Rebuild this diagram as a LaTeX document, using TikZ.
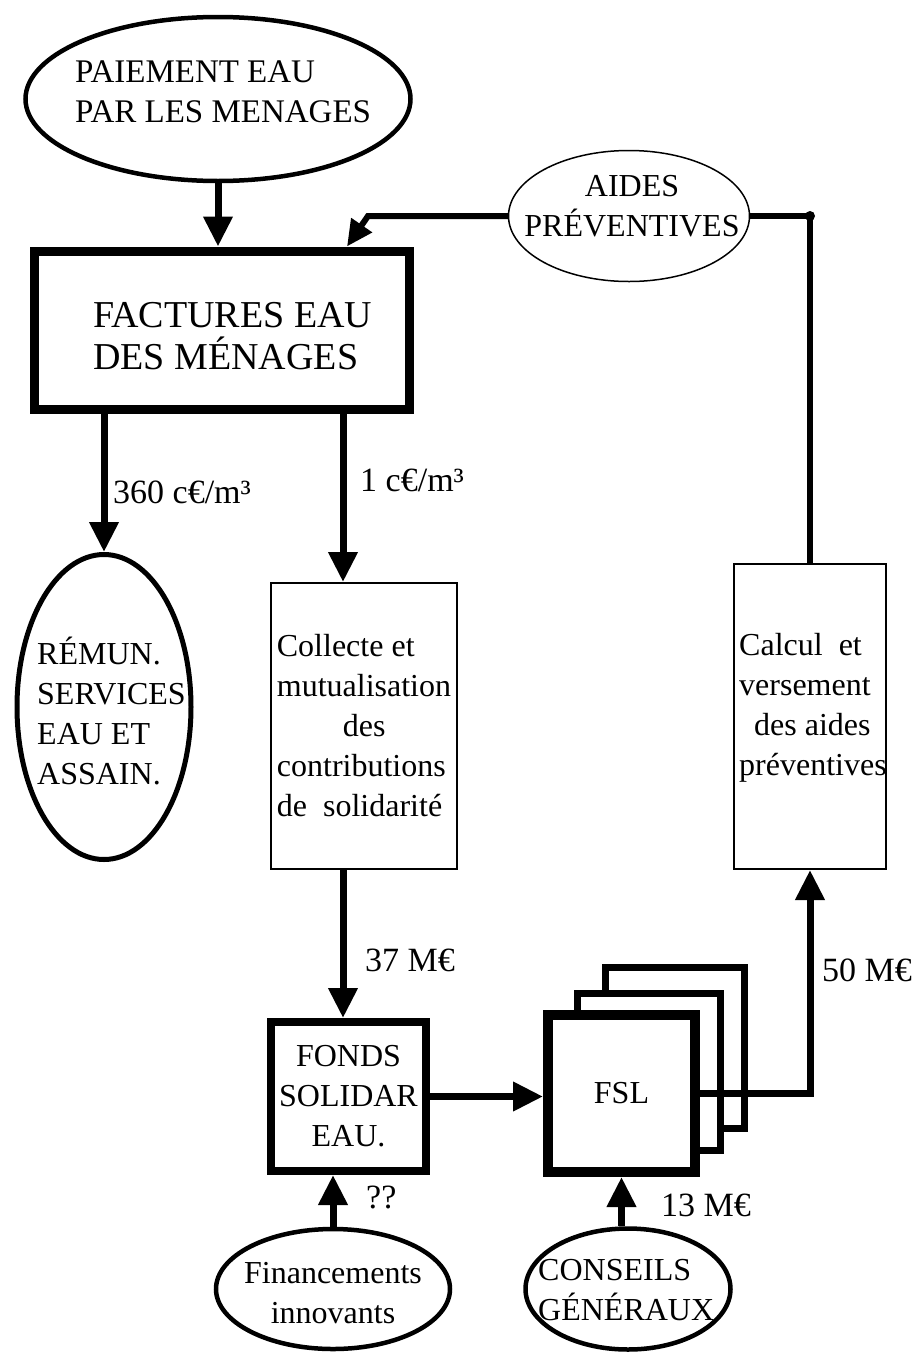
\documentclass[tikz,border=0pt]{standalone}
\usepackage{fontspec}
\setmainfont{Liberation Serif}
\usetikzlibrary{shapes.geometric,arrows.meta}
\begin{document}
\begin{tikzpicture}[x=1pt,y=-1pt,
  ell/.style={draw, ellipse, inner sep=0pt, line width=4.5pt},
  thinell/.style={draw, ellipse, inner sep=0pt, line width=1.5pt},
  thickbox/.style={draw, rectangle, inner sep=0pt, line width=8pt, align=center, font=\fontsize{32}{40}\selectfont},
  thinbox/.style={draw, rectangle, inner sep=0pt, line width=2pt, align=left, font=\fontsize{32}{40}\selectfont},
  txt/.style={font=\fontsize{32}{40}\selectfont, inner sep=0pt},
  flow/.style={line width=7pt, -{Triangle[width=28pt,length=30pt]}},
  link/.style={line width=6pt},
  page/.style={line width=7pt},
  lbl/.style={font=\fontsize{34}{38}\selectfont, anchor=west, inner sep=0pt}
]
\useasboundingbox (0,0) rectangle (915,1355);

% pages behind FSL
\draw[page] (605,995) -- (605,967) -- (744,967) -- (744,1128) -- (718,1128);
\draw[page] (577,1012) -- (577,993) -- (720,993) -- (720,1150) -- (697,1150);

% shapes
\node[ell, minimum width=385pt, minimum height=164pt] (pay) at (218,99) {};
\node[txt, anchor=west, align=left, font=\fontsize{33}{40}\selectfont] (payT) at (75,92) {PAIEMENT EAU\\PAR LES MENAGES};

\node[thickbox, line width=9pt, minimum width=375pt, minimum height=158pt] (fact) at (221.5,330) {};
\node[txt, anchor=west, align=left, font=\fontsize{38}{42}\selectfont] (factT) at (93,336) {FACTURES EAU\\DES MÉNAGES};

\node[thinell, minimum width=241pt, minimum height=131pt] (aides) at (629,216) {};
\node[txt, align=center] (aidesT) at (632,206) {AIDES\\PRÉVENTIVES};

\node[ell, line width=5pt, minimum width=174pt, minimum height=305pt] (remun) at (104,707) {};
\node[txt, anchor=west, align=left] (remunT) at (37,711) {RÉMUN.\\SERVICES\\EAU ET\\ASSAIN.};

\node[thinbox, minimum width=186pt, minimum height=286pt] (coll) at (364,726) {Collecte et\\mutualisation\\\hspace*{66pt}des\\contributions\\de~~solidarité};

\node[thinbox, minimum width=152pt, minimum height=305pt] (calc) at (810,716.5) {};
\node[txt, anchor=west, align=left] (calcT) at (739,708) {Calcul~~et\\versement\\\hspace*{15pt}des aides\\préventives};

\node[thickbox, minimum width=155pt, minimum height=149pt] (fonds) at (348.5,1096.5) {FONDS\\SOLIDAR\\EAU.};

\node[thickbox, line width=10pt, minimum width=147pt, minimum height=157pt] (fsl) at (621.5,1093.5) {FSL};

\node[ell, minimum width=234pt, minimum height=120pt] (fin) at (333,1289) {};
\node[txt, align=center] (finT) at (333,1293) {Financements\\innovants};

\node[ell, minimum width=205pt, minimum height=121pt] (cons) at (628,1289) {};
\node[txt, anchor=west, align=left] (consT) at (538,1290) {CONSEILS\\GÉNÉRAUX};

% connectors
\coordinate (xc) at (343,0);
\coordinate (xa) at (347,0);
\coordinate (bend) at (368,0);

\draw[flow] (pay.south) -- (pay.south |- fact.north);
\draw[flow] (fact.south -| remun.north) -- (remun.north);
\draw[flow] (fact.south -| xc) -- (coll.north -| xc);
\draw[flow] (coll.south -| xc) -- (fonds.north -| xc);
\draw[flow] (fonds.east) -- (fonds.east -| fsl.west);
\draw[flow] (fin.north) -- (fin.north |- fonds.south);
\draw[flow] (cons.north -| fsl.south) -- (fsl.south);
\draw[flow] (fsl.east) -| (calc.south);
\draw[link] (calc.north) |- (aides.east);
\fill (calc.north |- aides.east) circle (5);
\draw[link, -{Triangle[width=24pt,length=26pt]}] (aides.west) -- (aides.west -| bend) -- (fact.north -| xa);

% labels
\node[lbl] (l360) at (113,492) {360 c€/m³};
\node[lbl] (l1) at (360,480) {1 c€/m³};
\node[lbl] (l37) at (365,960) {37 M€};
\node[lbl] (l50) at (822,970) {50 M€};
\node[lbl] (lqq) at (366,1197) {??};
\node[lbl] (l13) at (661,1205) {13 M€};
\end{tikzpicture}
\end{document}
